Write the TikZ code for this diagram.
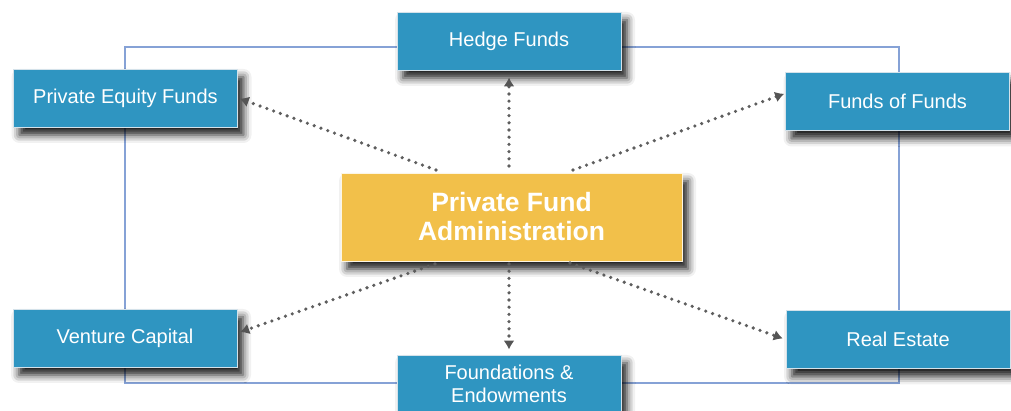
\documentclass[tikz,border=0pt]{standalone}
\usepackage{fontspec}
\setmainfont{Liberation Sans}
\usetikzlibrary{arrows.meta,shadows.blur}

\definecolor{fundblue}{HTML}{2F95C1}
\definecolor{fundgold}{HTML}{F2C04A}
\definecolor{frameblue}{HTML}{86A2D6}
\definecolor{boxedge}{HTML}{D4E2EA}
\definecolor{dotgray}{HTML}{5E5E5E}
\definecolor{tipgray}{HTML}{555555}

\begin{document}
\begin{tikzpicture}[
		box/.style={rectangle, fill=fundblue, draw=boxedge, line width=0.8pt,
			minimum width=224pt, minimum height=58pt, inner sep=0pt,
			text=white, align=center, font=\fontsize{20}{23}\selectfont,
			blur shadow={shadow xshift=6pt, shadow yshift=-8pt, shadow blur radius=8pt, shadow opacity=90}},
		core/.style={rectangle, fill=fundgold, draw=white!85!fundgold, line width=0.8pt,
			minimum width=341pt, minimum height=88pt, inner sep=0pt,
			text=white, align=center, font=\fontsize{26.5}{29}\selectfont\bfseries,
			blur shadow={shadow xshift=6pt, shadow yshift=-8pt, shadow blur radius=8pt, shadow opacity=90}},
		link/.style={->, draw=dotgray, line width=3.6pt, line cap=round, dash pattern=on 0pt off 7.2pt},
		>={Latex[length=9pt,width=11pt,color=tipgray]},
		x=1pt, y=1pt]
	\useasboundingbox (0,0) rectangle (1011,411);
	%% frame behind the boxes
	\draw[frameblue, line width=1.2pt] (125,28) rectangle (899,364);
	%% define boxes
	\node (adm) at (511.5,194) [core] {Private Fund\\Administration};
	\node (hf)  at (509,370)   [box] {Hedge Funds};
	\node (pe)  at (125.5,313) [box] {Private Equity Funds};
	\node (fof) at (897.5,309.5) [box] {Funds of Funds};
	\node (vc)  at (125,73)    [box] {Venture Capital};
	\node (fe)  at (509,27)    [box] {Foundations \&\\Endowments};
	\node (re)  at (898,71.5)  [box] {Real Estate};
	%% define start points
	\coordinate (s-pe)  at (436,241);
	\coordinate (s-hf)  at (509,245);
	\coordinate (s-fof) at (573,241);
	\coordinate (s-vc)  at (435,147);
	\coordinate (s-fe)  at (509,147);
	\coordinate (s-re)  at (570,148);
	%% define arrows
	\draw[link, shorten >=2pt] (s-pe) -- (pe.east);
	\draw[link, shorten >=7pt] (s-hf) -- (hf.south);
	\draw[link, shorten >=1pt] (s-fof) -- ([yshift=8pt]fof.west);
	\draw[link, shorten >=3pt] (s-vc) -- ([yshift=5pt]vc.east);
	\draw[link, shorten >=5pt] (s-fe) -- (fe.north);
	\draw[link, shorten >=3pt] (s-re) -- (re.west);
\end{tikzpicture}
\end{document}
